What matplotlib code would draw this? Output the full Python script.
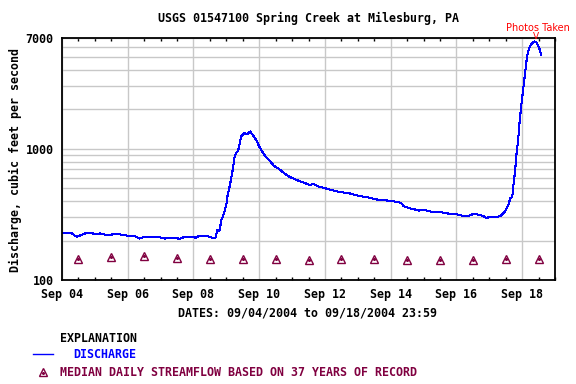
import numpy as np
import matplotlib
matplotlib.use("Agg")
import matplotlib.pyplot as plt
from matplotlib.lines import Line2D
from matplotlib.ticker import FixedLocator, MultipleLocator, NullFormatter

# discharge, days after Sep 04 00:00 and cubic feet per second
dias = [0.00, 0.30, 0.39, 0.45, 0.61, 0.76, 0.91, 1.06, 1.15, 1.30, 1.45, 1.61,
        1.76, 1.97, 2.21, 2.36, 2.52, 2.67, 2.97, 3.12, 3.27, 3.42, 3.58, 3.73,
        3.94, 4.06, 4.18, 4.33, 4.48, 4.58, 4.67, 4.73, 4.79, 4.85, 4.91, 5.00,
        5.03, 5.09, 5.15, 5.21, 5.24, 5.30, 5.36, 5.45, 5.55, 5.64, 5.73, 5.82,
        5.91, 6.00, 6.15, 6.30, 6.45, 6.61, 6.76, 6.91, 7.06, 7.21, 7.36, 7.52,
        7.67, 7.82, 8.12, 8.42, 8.73, 9.03, 9.33, 9.64, 9.94, 10.24, 10.33, 10.39,
        10.55, 10.70, 10.85, 11.00, 11.15, 11.30, 11.45, 11.61, 11.76, 11.91,
        12.06, 12.21, 12.36, 12.52, 12.67, 12.82, 12.91, 13.03, 13.15, 13.27,
        13.36, 13.48, 13.58, 13.64, 13.70, 13.73, 13.79, 13.82, 13.88, 13.91,
        13.97, 14.03, 14.09, 14.15, 14.21, 14.30, 14.39, 14.45, 14.52, 14.58]
caudal = [227, 227, 218, 214, 221, 230, 227, 223, 227, 222, 221, 224,
          223, 218, 217, 207, 214, 214, 212, 207, 210, 210, 206, 213,
          213, 210, 217, 218, 214, 210, 210, 241, 237, 287, 313, 374,
          432, 501, 598, 733, 849, 937, 970, 1241, 1318, 1295, 1356, 1257,
          1172, 1042, 900, 824, 742, 700, 652, 615, 590, 570, 553, 531,
          538, 515, 492, 470, 459, 438, 425, 408, 403, 392, 385, 367,
          353, 347, 338, 342, 336, 329, 332, 326, 321, 321,
          315, 308, 308, 319, 315, 308, 296, 304, 301, 304,
          310, 332, 374, 420, 432, 515, 691, 873, 1172, 1480,
          2104, 2820, 3784, 5065, 5870, 6410, 6590, 6410, 5870, 5220]

# median daily streamflow, at noon of each day
dias_med = [0.5, 1.5, 2.5, 3.5, 4.5, 5.5, 6.5, 7.5, 8.5, 9.5, 10.5, 11.5, 12.5, 13.5, 14.5]
mediana = [145, 150, 152, 148, 145, 145, 145, 143, 145, 145, 143, 143, 143, 145, 145]

pos_ticks = [0, 2, 4, 6, 8, 10, 12, 14]
etiquetas = ["Sep 04", "Sep 06", "Sep 08", "Sep 10", "Sep 12", "Sep 14", "Sep 16", "Sep 18"]

azul = "#0000ff"
granate = "#800040"
gris = "#c8c8c8"
fuente = "DejaVu Sans Mono"
tam = 8.4

plt.rcParams["font.family"] = fuente
plt.rcParams["font.weight"] = "bold"

fig = plt.figure(figsize=(5.76, 3.84), dpi=100, facecolor="white")
ax = fig.add_axes([62 / 576, 1 - 280 / 384, 493 / 576, 242 / 384])

ax.set_yscale("log")
ax.set_ylim(100, 7000)
ax.set_xlim(0, 15)

# rejilla
ax.yaxis.set_major_locator(FixedLocator([100, 1000, 7000]))
ax.yaxis.set_minor_locator(FixedLocator([200, 300, 400, 500, 600, 700, 800, 900,
                                         2000, 3000, 4000, 5000, 6000]))
ax.yaxis.set_minor_formatter(NullFormatter())
ax.set_yticklabels(["100", "1000", "7000"])
ax.grid(True, which="both", axis="y", color=gris, lw=1)
ax.set_xticks(pos_ticks)
ax.set_xticklabels(etiquetas)
ax.xaxis.set_minor_locator(MultipleLocator(0.5))
ax.grid(True, which="major", axis="x", color=gris, lw=1)
ax.set_axisbelow(True)

ax.tick_params(axis="both", which="major", length=0, labelsize=tam, pad=6)
ax.tick_params(axis="x", which="minor", direction="in", length=2.5, width=1,
               top=True, bottom=True)
ax.tick_params(axis="y", which="minor", length=0)
for s in ax.spines.values():
    s.set_linewidth(1.3)
    s.set_color("black")

ax.plot(dias, caudal, color=azul, lw=0.75, antialiased=False)
ax.plot(dias_med, mediana, ls="none", marker="^", ms=6, mfc="none",
        mec=granate, mew=1)
ax.plot(dias_med, mediana, ls="none", marker="o", ms=1.2, color=granate)

# nota en el pico
i_pico = int(np.argmax(caudal))
ax.annotate("V", xy=(dias[i_pico], caudal[i_pico]), xytext=(0.5, 0.5),
            textcoords="offset points", ha="center", va="bottom",
            color="red", fontsize=6.5, family="DejaVu Sans", weight="normal",
            annotation_clip=False)
ax.annotate("Photos Taken", xy=(dias[i_pico], caudal[i_pico]), xytext=(2, 6),
            textcoords="offset points", ha="center", va="bottom",
            color="red", fontsize=7, family="DejaVu Sans", weight="normal",
            annotation_clip=False)

fig.text(308 / 576, 1 - 18 / 384, "USGS 01547100 Spring Creek at Milesburg, PA",
         ha="center", va="center", fontsize=tam)
fig.text(15 / 576, 1 - 160 / 384, "Discharge, cubic feet per second",
         rotation=90, ha="center", va="center", fontsize=tam)
fig.text(308 / 576, 1 - 313 / 384, "DATES: 09/04/2004 to 09/18/2004 23:59",
         ha="center", va="center", fontsize=tam)

# leyenda
fig.text(60 / 576, 1 - 338 / 384, "EXPLANATION", ha="left", va="center", fontsize=tam)
fig.add_artist(Line2D([33 / 576, 53 / 576], [1 - 354 / 384] * 2, color=azul, lw=1))
fig.text(73 / 576, 1 - 354 / 384, "DISCHARGE", ha="left", va="center",
         fontsize=tam, color=azul)
fig.add_artist(Line2D([43 / 576], [1 - 372 / 384], ls="none", marker="^", ms=6,
                      mfc="none", mec=granate, mew=1))
fig.add_artist(Line2D([43 / 576], [1 - 372.5 / 384], ls="none", marker="o", ms=1.2,
                      color=granate))
fig.text(60 / 576, 1 - 373 / 384, "MEDIAN DAILY STREAMFLOW BASED ON 37 YEARS OF RECORD",
         ha="left", va="center", fontsize=tam, color=granate)

fig.savefig("out.png", dpi=100)
